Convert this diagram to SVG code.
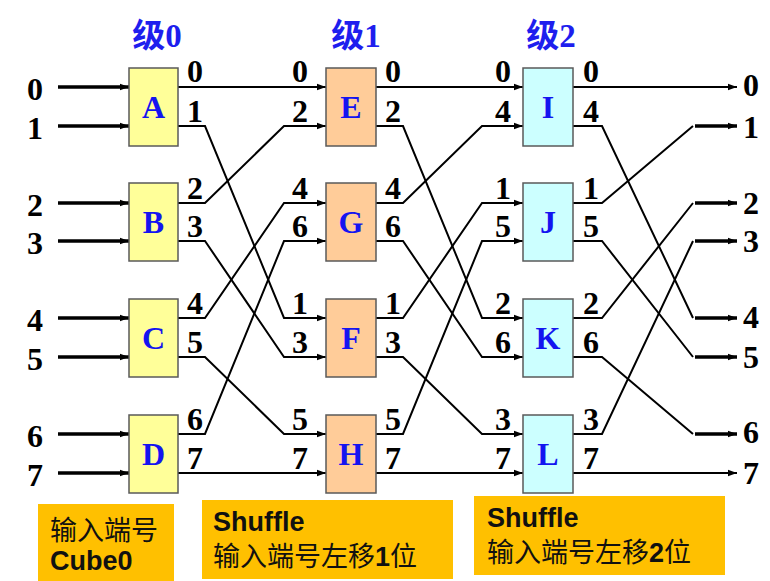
<svg xmlns="http://www.w3.org/2000/svg" width="770" height="581" viewBox="0 0 770 581">
<defs>
<marker id="ah" markerUnits="userSpaceOnUse" markerWidth="10" markerHeight="8" refX="9" refY="4" orient="auto">
<path d="M0,0.8 L9,4 L0,7.2 Z" fill="#000"/>
</marker>
<style>
.sw{stroke:#5a5a5a;stroke-width:1.5}
.s0{fill:#FFFF99}
.s1{fill:#FFCC99}
.s2{fill:#CCFFFF}
.let{font-family:'Liberation Serif',serif;font-weight:bold;font-size:32px;fill:#1414F0;text-anchor:middle}
.ttl{font-family:'Liberation Serif','Noto Sans CJK SC',serif;font-weight:bold;font-size:33px;fill:#1E1EEE;text-anchor:middle}
.num{font-family:'Liberation Serif',serif;font-weight:bold;font-size:32px;fill:#000}
.end{text-anchor:end}
.ln{fill:none;stroke:#000;stroke-width:2}
.th{fill:none;stroke:#000;stroke-width:3.5}
.note{fill:#FFC000}
.nt{font-family:'Noto Sans CJK SC',sans-serif;font-size:27px;fill:#111}
.nb{font-family:'Liberation Sans','Noto Sans CJK SC',sans-serif;font-weight:bold;font-size:27px;fill:#111}
</style>
</defs>

<g id="titles">
<text class="ttl" x="157" y="47">级0</text>
<text class="ttl" x="356" y="47">级1</text>
<text class="ttl" x="551" y="47">级2</text>
</g>

<g id="inputs">
<g class="th" marker-end="url(#ah)">
<path d="M58,87 H129"/><path d="M58,126 H129"/><path d="M58,203 H129"/><path d="M58,241 H129"/>
<path d="M58,318 H129"/><path d="M58,357 H129"/><path d="M58,434 H129"/><path d="M58,473 H129"/>
</g>
<g class="num">
<text x="27" y="100">0</text><text x="27" y="139">1</text><text x="27" y="216">2</text><text x="27" y="254">3</text>
<text x="27" y="331">4</text><text x="27" y="370">5</text><text x="27" y="447">6</text><text x="27" y="486">7</text>
</g>
</g>

<g id="connectors">
<g class="ln" marker-end="url(#ah)">
<path d="M178,87 H326"/>
<path d="M178,126 H205 L284,318 H326"/>
<path d="M178,203 H205 L284,126 H326"/>
<path d="M178,241 H205 L284,357 H326"/>
<path d="M178,318 H205 L284,203 H326"/>
<path d="M178,357 H205 L284,434 H326"/>
<path d="M178,434 H205 L284,241 H326"/>
<path d="M178,473 H326"/>
<path d="M376,87 H523"/>
<path d="M376,126 H403 L482,318 H523"/>
<path d="M376,203 H403 L482,126 H523"/>
<path d="M376,241 H403 L482,357 H523"/>
<path d="M376,318 H403 L482,203 H523"/>
<path d="M376,357 H403 L482,434 H523"/>
<path d="M376,434 H403 L482,241 H523"/>
<path d="M376,473 H523"/>
<path d="M573,87 H737"/>
<path d="M573,473 H737"/>
</g>
<g class="ln">
<path d="M573,126 H602 L693,318"/>
<path d="M573,203 H602 L693,126"/>
<path d="M573,241 H602 L693,357"/>
<path d="M573,318 H602 L693,203"/>
<path d="M573,357 H602 L693,434"/>
<path d="M573,434 H602 L693,241"/>
</g>
<g class="th" marker-end="url(#ah)">
<path d="M695,126 H737"/><path d="M695,203 H737"/><path d="M695,241 H737"/>
<path d="M695,318 H737"/><path d="M695,357 H737"/><path d="M695,434 H737"/>
</g>
</g>

<g id="A"><rect class="s0 sw" x="129" y="68" width="49" height="78"/><text class="let" x="153.5" y="118">A</text></g>
<g id="B"><rect class="s0 sw" x="129" y="183" width="49" height="78"/><text class="let" x="153.5" y="233">B</text></g>
<g id="C"><rect class="s0 sw" x="129" y="299" width="49" height="78"/><text class="let" x="153.5" y="349">C</text></g>
<g id="D"><rect class="s0 sw" x="129" y="415" width="49" height="78"/><text class="let" x="153.5" y="465">D</text></g>

<g id="E"><rect class="s1 sw" x="326" y="68" width="50" height="78"/><text class="let" x="351" y="118">E</text></g>
<g id="G"><rect class="s1 sw" x="326" y="183" width="50" height="78"/><text class="let" x="351" y="233">G</text></g>
<g id="F"><rect class="s1 sw" x="326" y="299" width="50" height="78"/><text class="let" x="351" y="349">F</text></g>
<g id="H"><rect class="s1 sw" x="326" y="415" width="50" height="78"/><text class="let" x="351" y="465">H</text></g>

<g id="I"><rect class="s2 sw" x="523" y="68" width="50" height="78"/><text class="let" x="548" y="118">I</text></g>
<g id="J"><rect class="s2 sw" x="523" y="183" width="50" height="78"/><text class="let" x="548" y="233">J</text></g>
<g id="K"><rect class="s2 sw" x="523" y="299" width="50" height="78"/><text class="let" x="548" y="349">K</text></g>
<g id="L"><rect class="s2 sw" x="523" y="415" width="50" height="78"/><text class="let" x="548" y="465">L</text></g>

<g id="port-labels" class="num">
<text x="187" y="82">0</text><text x="187" y="122">1</text><text x="187" y="199">2</text><text x="187" y="237">3</text>
<text x="187" y="314">4</text><text x="187" y="353">5</text><text x="187" y="430">6</text><text x="187" y="469">7</text>

<text class="end" x="308" y="82">0</text><text class="end" x="308" y="122">2</text><text class="end" x="308" y="199">4</text><text class="end" x="308" y="237">6</text>
<text class="end" x="308" y="314">1</text><text class="end" x="308" y="353">3</text><text class="end" x="308" y="430">5</text><text class="end" x="308" y="469">7</text>

<text x="385" y="82">0</text><text x="385" y="122">2</text><text x="385" y="199">4</text><text x="385" y="237">6</text>
<text x="385" y="314">1</text><text x="385" y="353">3</text><text x="385" y="430">5</text><text x="385" y="469">7</text>

<text class="end" x="511" y="82">0</text><text class="end" x="511" y="122">4</text><text class="end" x="511" y="199">1</text><text class="end" x="511" y="237">5</text>
<text class="end" x="511" y="314">2</text><text class="end" x="511" y="353">6</text><text class="end" x="511" y="430">3</text><text class="end" x="511" y="469">7</text>

<text x="583" y="82">0</text><text x="583" y="122">4</text><text x="583" y="199">1</text><text x="583" y="237">5</text>
<text x="583" y="314">2</text><text x="583" y="353">6</text><text x="583" y="430">3</text><text x="583" y="469">7</text>
</g>

<g id="outputs" class="num">
<text x="743" y="96">0</text><text x="743" y="138">1</text><text x="743" y="214">2</text><text x="743" y="252">3</text>
<text x="743" y="328">4</text><text x="743" y="368">5</text><text x="743" y="443">6</text><text x="743" y="484">7</text>
</g>

<g id="note-cube0">
<rect class="note" x="38" y="504" width="136" height="77"/>
<text class="nt" x="50" y="540">输入端号</text>
<text class="nb" x="50" y="570">Cube0</text>
</g>
<g id="note-shuffle1">
<rect class="note" x="202" y="500" width="251" height="79"/>
<text class="nb" x="213" y="531">Shuffle</text>
<text class="nt" x="213" y="566">输入端号左移<tspan class="nb">1</tspan>位</text>
</g>
<g id="note-shuffle2">
<rect class="note" x="474" y="496" width="251" height="79"/>
<text class="nb" x="487" y="527">Shuffle</text>
<text class="nt" x="487" y="562">输入端号左移<tspan class="nb">2</tspan>位</text>
</g>
</svg>
